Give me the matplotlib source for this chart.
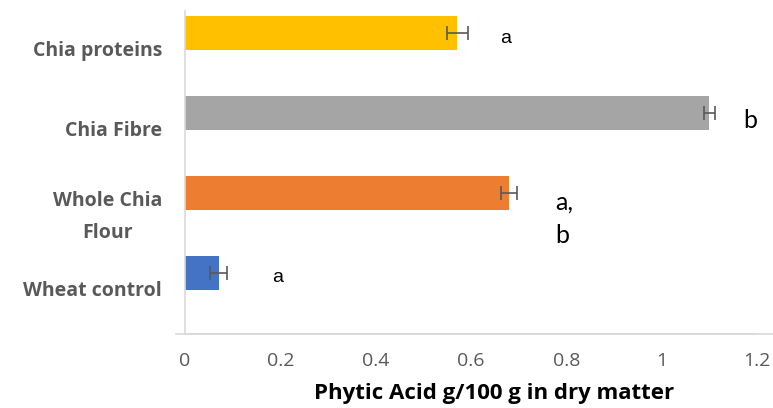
import matplotlib.pyplot as plt
from matplotlib.lines import Line2D
from matplotlib.transforms import ScaledTranslation

categories = ["Wheat control", "Whole Chia\nFlour", "Chia Fibre", "Chia proteins"]
values = [0.071, 0.68, 1.10, 0.571]
errors = [0.018, 0.017, 0.012, 0.022]
colors = ["#4472c4", "#ed7d31", "#a5a5a5", "#ffc000"]
xticks = [0, 0.2, 0.4, 0.6, 0.8, 1, 1.2]
xticklabels = ["0", "0.2", "0.4", "0.6", "0.8", "1", "1.2"]

plt.rcParams["font.family"] = ["Open Sans", "DejaVu Sans"]

fig = plt.figure(figsize=(7.73, 4.08), dpi=100)
ax = fig.add_axes([0.2393, 0.1814, 0.74, 0.7917])

y = range(len(categories))
ax.barh(y, values, height=0.425, color=colors, zorder=2)
ax.errorbar(values, y, xerr=errors, fmt="none", ecolor="#595959",
            elinewidth=1.2, capsize=4.7, capthick=1.2, zorder=3)

# significance letters
ax.text(0.183, -0.1125, "a", fontsize=14, family="Liberation Sans", va="baseline")
ax.text(0.776, 0.7875, "a,", fontsize=18, family="Lato", va="baseline")
ax.text(0.776, 0.375, "b", fontsize=18, family="Lato", va="baseline")
ax.text(1.171, 1.8125, "b", fontsize=18, family="Lato", va="baseline")
ax.text(0.661, 2.875, "a", fontsize=14, family="Liberation Sans", va="baseline")

ax.set_xlim(0, 1.2)
ax.set_ylim(-0.7625, 3.275)
ax.set_yticks(list(y))
ax.set_yticklabels(categories, fontsize=14, fontweight="bold", color="#595959",
                   ha="right", multialignment="center", linespacing=1.75)
ax.tick_params(axis="y", length=0, pad=16.5)
shift = ScaledTranslation(0, -0.16, fig.dpi_scale_trans)
for lab in ax.get_yticklabels():
    lab.set_transform(lab.get_transform() + shift)
ax.set_xticks(xticks)
ax.set_xticklabels(xticklabels, fontsize=14, color="#595959")
ax.tick_params(axis="x", length=0, pad=13)
ax.set_xlabel("Phytic Acid g/100 g in dry matter", fontsize=16, fontweight="bold",
              color="#000000", va="center")
ax.xaxis.set_label_coords(0.54, -0.183)

for s in ["top", "right"]:
    ax.spines[s].set_visible(False)
ax.spines["left"].set_color("#d9d9d9")
ax.spines["bottom"].set_color("#d9d9d9")
ax.spines["left"].set_linewidth(1.2)
ax.spines["bottom"].set_linewidth(1.2)

yb = 0.1814
fig.add_artist(Line2D([176 / 773, 1.0], [yb, yb], color="#d9d9d9", lw=1.2))

fig.savefig("out.png", dpi=100)
